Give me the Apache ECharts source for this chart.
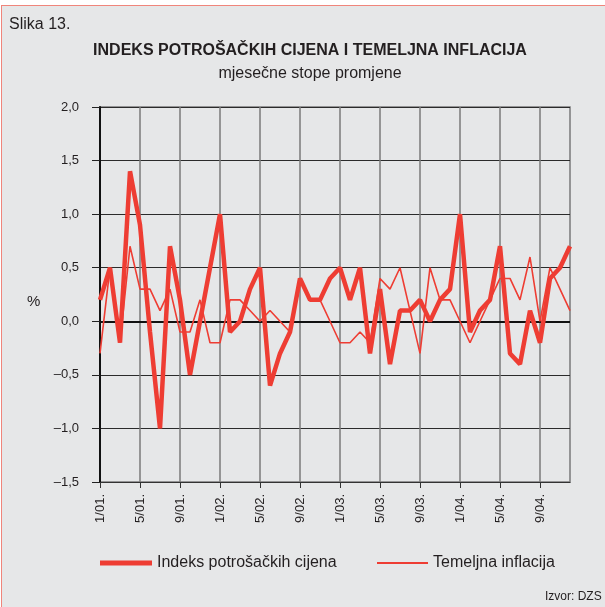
<html>
<head>
<meta http-equiv="Content-Type" content="text/html; charset=utf-8" />
<style type="text/css">
body {margin: 0; background-color: #fff; overflow: hidden}
#frame {position: absolute; left: 1px; top: 5px; width: 640px; height: 640px;
        border: 1.5px solid #f0857b; background-color: #e6e7e8}
#main {position: absolute; left: 0; top: 0; width: 605px; height: 607px}
</style>
</head>
<body>
<div id="frame"></div>
<div id="main"></div>
</body>

<script src="https://cdn.jsdelivr.net/npm/echarts@6/dist/echarts.min.js"></script>
<script type="text/javascript">

// months 1/01. .. 12/04.
var years = ['01', '02', '03', '04'];
var months = [];
for (var y = 0; y < years.length; y++) {
    for (var m = 1; m <= 12; m++) {
        months.push(m + '/' + years[y] + '.');
    }
}

// Indeks potrošačkih cijena (monthly % change)
var cpi = [0.2, 0.5, -0.2, 1.4, 0.9, -0.1, -1.0, 0.7, 0.2, -0.5, 0.0, 0.5,
           1.0, -0.1, 0.0, 0.3, 0.5, -0.6, -0.3, -0.1, 0.4, 0.2, 0.2, 0.4,
           0.5, 0.2, 0.5, -0.3, 0.3, -0.4, 0.1, 0.1, 0.2, 0.0, 0.2, 0.3,
           1.0, -0.1, 0.1, 0.2, 0.7, -0.3, -0.4, 0.1, -0.2, 0.4, 0.5, 0.7];

// Temeljna inflacija
var core = [-0.3, 0.5, -0.2, 0.7, 0.3, 0.3, 0.1, 0.3, -0.1, -0.1, 0.2, -0.2,
            -0.2, 0.2, 0.2, 0.1, 0.0, 0.1, 0.0, -0.1, 0.4, 0.2, 0.2, 0.0,
            -0.2, -0.2, -0.1, -0.2, 0.4, 0.3, 0.5, 0.1, -0.3, 0.5, 0.2, 0.2,
            0.0, -0.2, 0.0, 0.2, 0.4, 0.4, 0.2, 0.6, 0.0, 0.5, 0.3, 0.1];

var red = '#ee3d33';
var ink = '#231f20';
var font = 'Liberation Sans';

var myChart = echarts.init(document.getElementById('main'));

option = {
    backgroundColor: 'transparent',
    textStyle: { fontFamily: font },
    title: [{
        text: 'Slika 13.',
        left: 9, top: 17, padding: 0,
        textStyle: { fontSize: 16, fontWeight: 'normal', color: ink, fontFamily: font }
    }, {
        text: 'INDEKS POTROŠAČKIH CIJENA I TEMELJNA INFLACIJA',
        subtext: 'mjesečne stope promjene',
        left: 310, top: 43, textAlign: 'center', padding: 0,
        itemGap: 7,
        textStyle: { fontSize: 16, fontWeight: 'bold', color: ink, fontFamily: font },
        subtextStyle: { fontSize: 16, color: ink, fontFamily: font }
    }],
    graphic: [{
        type: 'text', left: 27, top: 294,
        style: { text: '%', fontSize: 15, fill: ink, fontFamily: font }
    }, {
        type: 'text', left: 545, top: 591,
        style: { text: 'Izvor: DZS', fontSize: 12, fill: ink, fontFamily: font }
    }],
    legend: [{
        data: ['Indeks potrošačkih cijena'],
        left: 100, top: 555, padding: 0,
        icon: 'rect', itemWidth: 52, itemHeight: 5,
        textStyle: { fontSize: 16, color: ink, fontFamily: font }
    }, {
        data: ['Temeljna inflacija'],
        left: 377, top: 555, padding: 0,
        icon: 'rect', itemWidth: 51, itemHeight: 2,
        textStyle: { fontSize: 16, color: ink, fontFamily: font }
    }],
    grid: {
        left: 100, right: 35, top: 107, bottom: 125,
        show: true, borderColor: '#7a7a7a', borderWidth: 1.5,
        containLabel: false
    },
    xAxis: {
        type: 'category',
        data: months,
        boundaryGap: false,
        axisLine: { onZero: false, lineStyle: { color: '#333', width: 1 } },
        axisTick: { interval: 3, length: 6, lineStyle: { color: '#333' } },
        axisLabel: { interval: 3, rotate: 90, margin: 12, fontSize: 13, color: ink },
        splitLine: { show: true, interval: 3, lineStyle: { color: '#7a7a7a', width: 1.5 } }
    },
    yAxis: {
        type: 'value',
        min: -1.5, max: 2.0, interval: 0.5,
        axisLine: { show: true, lineStyle: { color: '#111', width: 2 } },
        axisTick: { show: true, length: 8, lineStyle: { color: '#222' } },
        axisLabel: {
            margin: 21, fontSize: 13, color: ink,
            formatter: function (v) {
                return v.toFixed(1).replace('.', ',').replace('-', '\u2013');
            }
        },
        splitLine: { lineStyle: { color: '#2b2b2b', width: 1 } }
    },
    series: [{
        name: 'Indeks potrošačkih cijena',
        type: 'line',
        data: cpi,
        symbol: 'none',
        color: red,
        lineStyle: { color: red, width: 4.5 },
        z: 3,
        markLine: {
            silent: true,
            symbol: 'none',
            label: { show: false },
            lineStyle: { color: '#111', width: 2, type: 'solid' },
            data: [{ yAxis: 0 }],
            z: 1
        }
    }, {
        name: 'Temeljna inflacija',
        type: 'line',
        data: core,
        symbol: 'none',
        color: red,
        lineStyle: { color: red, width: 1.6 },
        z: 4
    }]
};

myChart.setOption(option);
</script>
</html>
